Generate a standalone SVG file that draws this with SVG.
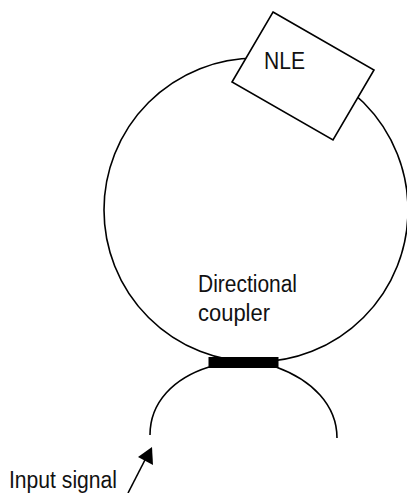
<svg xmlns="http://www.w3.org/2000/svg" width="407" height="493" viewBox="0 0 407 493">
<style>
.l{fill:none;stroke:#000;stroke-width:1.6}
text{font-family:"Liberation Sans",Arial,sans-serif;font-size:23px;fill:#111}
</style>
<g id="connectors">
<circle class="l" cx="256" cy="210" r="152"/>
<path class="l" d="M150 435C150 402 174 378 209 367M337 438C337 405 312 380 276 367"/>
<path class="l" d="M128 493L147 456"/>
<path d="M152 447L138 457L153 465Z" fill="#000"/>
</g>
<g id="coupler"><rect x="208.500" y="357" width="70" height="11" fill="#000"/>
<text x="198" y="292" textLength="99" lengthAdjust="spacingAndGlyphs">Directional</text><text x="198" y="321" textLength="72" lengthAdjust="spacingAndGlyphs">coupler</text></g>
<g id="nle"><path d="M273 12L374 70L333 140L232 82Z" fill="#fff" stroke="#000" stroke-width="1.6"/>
<text x="264" y="69" textLength="41" lengthAdjust="spacingAndGlyphs">NLE</text></g>
<g id="input"><text x="9" y="488" textLength="108" lengthAdjust="spacingAndGlyphs">Input signal</text></g>
</svg>
